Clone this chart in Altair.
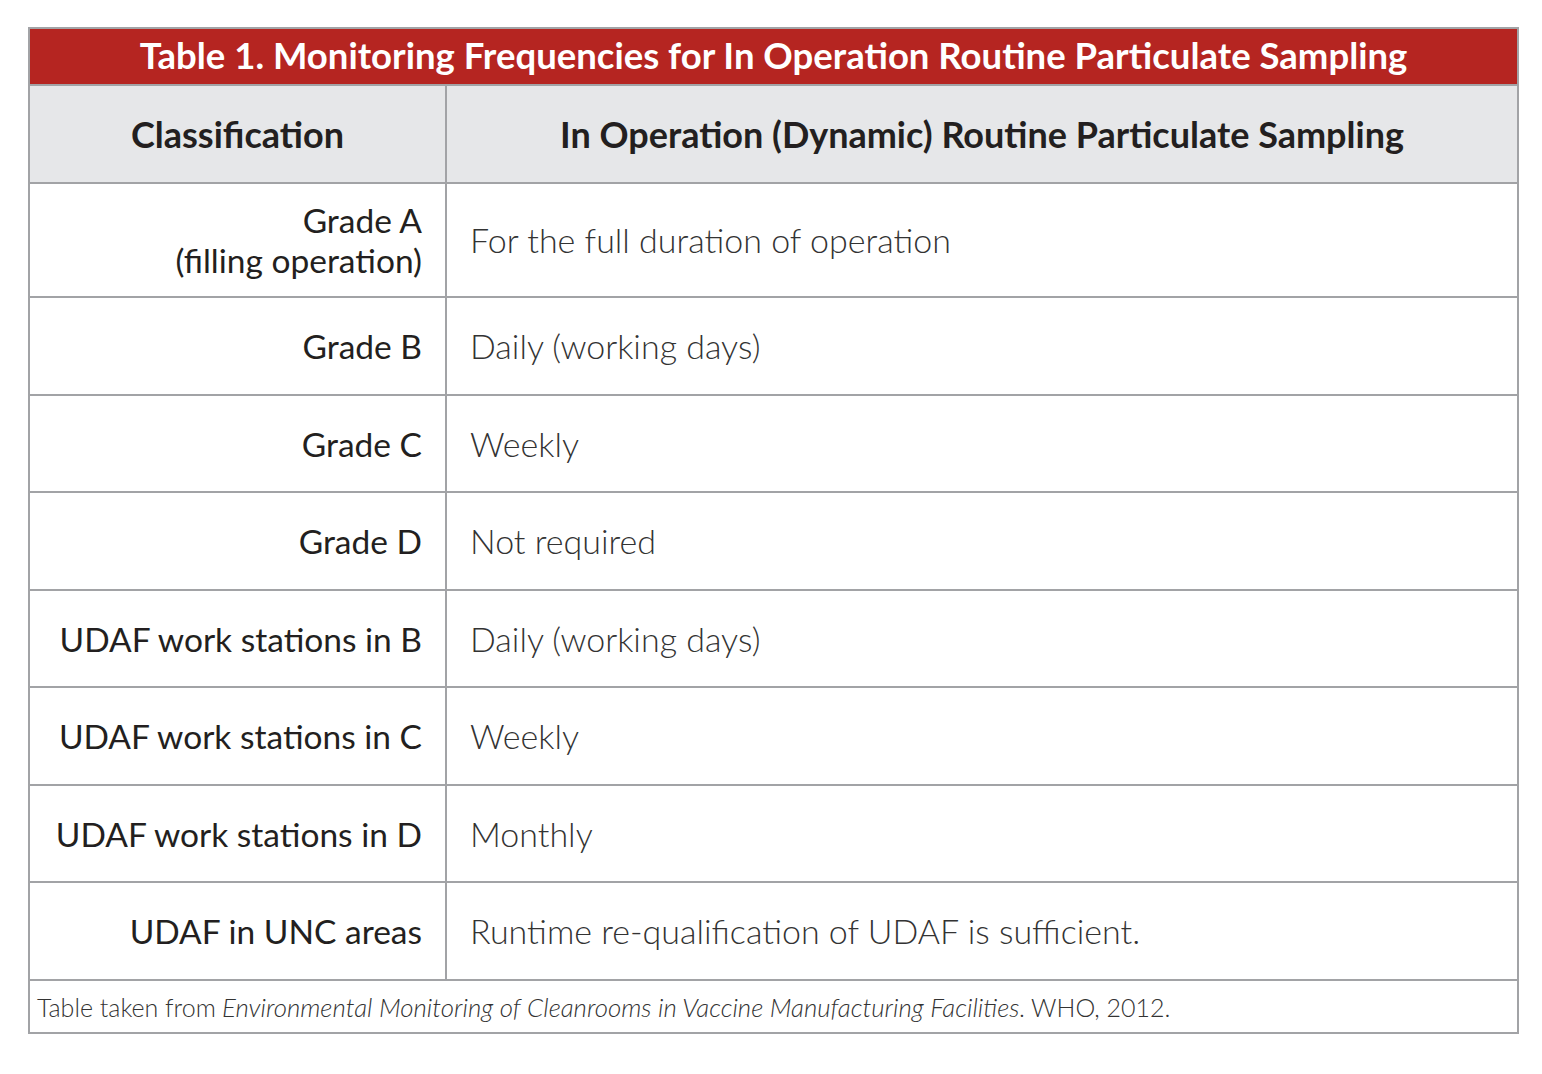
import altair as alt
import pandas as pd

# ---------------- data ----------------
title_text = "Table 1. Monitoring Frequencies for In Operation Routine Particulate Sampling"
headers = ["Classification", "In Operation (Dynamic) Routine Particulate Sampling"]
classifications = [
    "Grade A\n(filling operation)",
    "Grade B",
    "Grade C",
    "Grade D",
    "UDAF work stations in B",
    "UDAF work stations in C",
    "UDAF work stations in D",
    "UDAF in UNC areas",
]
frequencies = [
    "For the full duration of operation",
    "Daily (working days)",
    "Weekly",
    "Not required",
    "Daily (working days)",
    "Weekly",
    "Monthly",
    "Runtime re-qualification of UDAF is sufficient.",
]
footer_parts = [
    "Table taken from ",
    "Environmental Monitoring of Cleanrooms in Vaccine Manufacturing Facilities",
    ". WHO, 2012.",
]

# ---------------- layout ----------------
W, H = 1526, 1058
OX, OY = 8, 8
LEFT, RIGHT = 29, 1518
TOP, TITLE_B, HEAD_B = 28, 85, 183
row_bounds = [183, 297, 395, 492, 590, 687, 785, 882, 980]
BOTTOM = 1033
COL = 446
FONT = "Source Sans Pro, Lato, Roboto, sans-serif"
BORDER = "#a2a3a6"
LH = 40
DY = 3

xs = alt.Scale(domain=[OX, OX + W], range=[0, W])
ys = alt.Scale(domain=[OY, OY + H], range=[0, H])

bands = pd.DataFrame([
    {"x": LEFT, "x2": RIGHT, "y": TOP, "y2": TITLE_B, "fill": "#b52521"},
    {"x": LEFT, "x2": RIGHT, "y": TITLE_B, "y2": HEAD_B, "fill": "#e6e7e9"},
    {"x": LEFT, "x2": RIGHT, "y": HEAD_B, "y2": BOTTOM, "fill": "#ffffff"},
])
band_layer = alt.Chart(bands).mark_rect().encode(
    x=alt.X("x:Q", scale=xs, axis=None),
    x2="x2:Q",
    y=alt.Y("y:Q", scale=ys, axis=None),
    y2="y2:Q",
    fill=alt.Fill("fill:N", scale=None),
)

hlines = pd.DataFrame({"y": [TITLE_B] + row_bounds})
hline_layer = alt.Chart(hlines).mark_rule(color=BORDER, strokeWidth=2).encode(
    x=alt.value(LEFT - OX), x2=alt.value(RIGHT - OX),
    y=alt.Y("y:Q", scale=ys, axis=None),
)

vline = pd.DataFrame({"x": [COL], "y": [TITLE_B], "y2": [row_bounds[-1]]})
vline_layer = alt.Chart(vline).mark_rule(color=BORDER, strokeWidth=2).encode(
    x=alt.X("x:Q", scale=xs, axis=None),
    y=alt.Y("y:Q", scale=ys, axis=None),
    y2="y2:Q",
)

outer = pd.DataFrame([{"x": LEFT, "x2": RIGHT, "y": TOP, "y2": BOTTOM}])
outer_layer = alt.Chart(outer).mark_rect(fill=None, stroke=BORDER, strokeWidth=2).encode(
    x=alt.X("x:Q", scale=xs, axis=None), x2="x2:Q",
    y=alt.Y("y:Q", scale=ys, axis=None), y2="y2:Q",
)

title_df = pd.DataFrame([{"t": title_text, "x": (LEFT + RIGHT) / 2, "y": (TOP + TITLE_B) / 2 + 1}])
title_layer = alt.Chart(title_df).mark_text(
    font=FONT, fontSize=36.5, fontWeight="bold", color="#ffffff", baseline="middle", align="center"
).encode(x=alt.X("x:Q", scale=xs, axis=None), y=alt.Y("y:Q", scale=ys, axis=None), text="t:N")

head_df = pd.DataFrame([
    {"t": headers[0], "x": (LEFT + COL) / 2},
    {"t": headers[1], "x": (COL + RIGHT) / 2},
])
head_df["y"] = (TITLE_B + HEAD_B) / 2 + DY
head_layer = alt.Chart(head_df).mark_text(
    font=FONT, fontSize=36, fontWeight="bold", color="#231f20", baseline="middle", align="center"
).encode(x=alt.X("x:Q", scale=xs, axis=None), y=alt.Y("y:Q", scale=ys, axis=None), text="t:N")

centers = [(row_bounds[i] + row_bounds[i + 1]) / 2 + DY for i in range(len(classifications))]
left_y = [c - (t.count("\n")) * LH / 2 for c, t in zip(centers, classifications)]
left_df = pd.DataFrame({"t": classifications, "y": left_y})
left_df["x"] = COL - 24
left_layer = alt.Chart(left_df).mark_text(
    font=FONT, fontSize=33.5, color="#231f20", baseline="middle", align="right", lineBreak="\n", lineHeight=LH
).encode(x=alt.X("x:Q", scale=xs, axis=None), y=alt.Y("y:Q", scale=ys, axis=None), text="t:N")

right_df = pd.DataFrame({"t": frequencies, "y": centers})
right_df["x"] = COL + 24
right_layer = alt.Chart(right_df).mark_text(
    font=FONT, fontSize=34, fontWeight=300, color="#333333", baseline="middle", align="left"
).encode(x=alt.X("x:Q", scale=xs, axis=None), y=alt.Y("y:Q", scale=ys, axis=None), text="t:N")

fy = (row_bounds[-1] + BOTTOM) / 2 + 2
foot_df = pd.DataFrame({"t": footer_parts, "x": [37, 222, 1019], "style": ["normal", "italic", "normal"]})
foot_df["y"] = fy
foot_norm = alt.Chart(foot_df[foot_df["style"] == "normal"]).mark_text(
    font=FONT, fontSize=25, fontWeight=300, color="#333333", baseline="middle", align="left"
).encode(x=alt.X("x:Q", scale=xs, axis=None), y=alt.Y("y:Q", scale=ys, axis=None), text="t:N")
foot_ital = alt.Chart(foot_df[foot_df["style"] == "italic"]).mark_text(
    font=FONT, fontSize=25.8, fontWeight=300, fontStyle="italic", color="#333333", baseline="middle", align="left"
).encode(x=alt.X("x:Q", scale=xs, axis=None), y=alt.Y("y:Q", scale=ys, axis=None), text="t:N")

chart = alt.layer(
    band_layer, hline_layer, vline_layer, outer_layer,
    title_layer, head_layer, left_layer, right_layer, foot_norm, foot_ital,
).properties(
    width=W, height=H, padding=0, autosize=alt.AutoSizeParams(type="none")
).configure_view(stroke=None, strokeWidth=0)

chart.save("out.html", embed_options={"renderer": "svg", "actions": False})
